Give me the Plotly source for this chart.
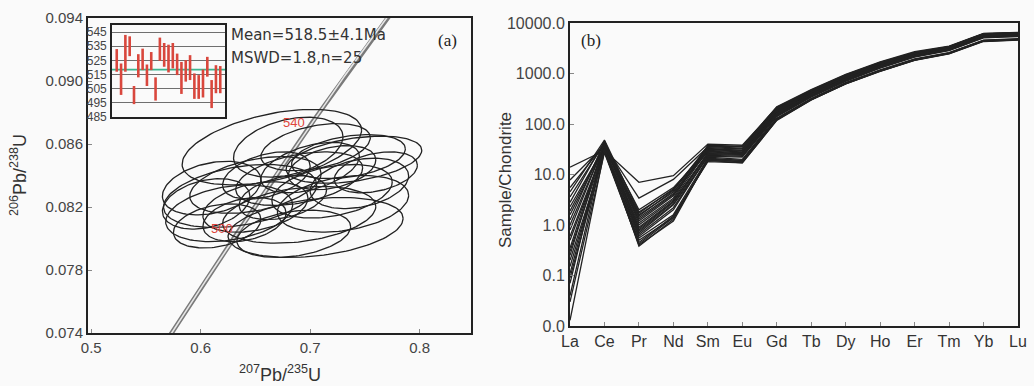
import numpy as np
import plotly.graph_objects as go

# ---------------- data: U-Pb concordia (panel a) ----------------
ell_x = [0.665, 0.680, 0.740, 0.735, 0.705, 0.636, 0.626, 0.650, 0.690, 0.720, 0.700, 0.610, 0.660,
         0.745, 0.690, 0.605, 0.720, 0.650, 0.675, 0.730, 0.640, 0.705, 0.615, 0.760, 0.685]
ell_sx = [0.082, 0.050, 0.062, 0.052, 0.080, 0.070, 0.058, 0.048, 0.058, 0.055, 0.045, 0.045, 0.040,
          0.045, 0.070, 0.040, 0.040, 0.060, 0.040, 0.060, 0.038, 0.050, 0.040, 0.038, 0.052]
ell_y = [0.0858, 0.0858, 0.0850, 0.0852, 0.0807, 0.0827, 0.0816, 0.0820, 0.0838, 0.0830, 0.0845, 0.0832, 0.0840,
         0.0835, 0.0815, 0.0822, 0.0845, 0.0834, 0.0826, 0.0822, 0.0812, 0.0858, 0.0808, 0.0842, 0.0803]
ell_sy = [0.0024, 0.0019, 0.0015, 0.0014, 0.0019, 0.0020, 0.0018, 0.0016, 0.0017, 0.0017, 0.0016, 0.0017, 0.0015,
          0.0016, 0.0018, 0.0016, 0.0014, 0.0018, 0.0014, 0.0018, 0.0014, 0.0015, 0.0014, 0.0013, 0.0015]
ell_rho = [0.45, 0.35, 0.40, 0.35, 0.30, 0.35, 0.30, 0.35, 0.40, 0.35, 0.45, 0.30, 0.40,
           0.30, 0.30, 0.30, 0.35, 0.40, 0.35, 0.30, 0.30, 0.40, 0.30, 0.35, 0.30]
age_labels = [500, 540]
LAMBDA238 = 1.55125e-10
LAMBDA235 = 9.8485e-10

# weighted mean inset
spot_age = [525.0, 511.7, 530.0, 535.0, 500.5, 521.2, 525.7, 514.5, 524.5, 504.8, 532.9, 528.9, 526.3,
            528.3, 522.2, 512.6, 517.6, 519.9, 506.8, 506.2, 508.7, 520.5, 501.2, 511.7, 511.4]
spot_err = [8.0, 11.1, 13.0, 7.0, 6.4, 8.2, 7.6, 7.6, 6.4, 8.2, 8.2, 8.4, 9.8,
            9.0, 7.6, 11.3, 7.6, 8.8, 9.0, 8.4, 9.9, 7.0, 9.9, 9.9, 9.6]
mean_age = 518.5

# ---------------- data: REE chondrite normalised (panel b) ----------------
elements = ["La", "Ce", "Pr", "Nd", "Sm", "Eu", "Gd", "Tb", "Dy", "Ho", "Er", "Tm", "Yb", "Lu"]
la = [14.0, 7.8, 3.6, 2.3, 1.25, 0.8, 0.5, 0.2, 0.11, 0.07, 0.013, 4.5, 1.6, 0.35, 0.15, 1.0, 0.6, 2.8, 0.09, 0.25, 0.04, 5.5, 0.3, 1.9, 0.03]
ce = [30, 38, 42, 35, 45, 40, 33, 28, 36, 44, 30, 48, 37, 41, 31, 39, 34, 46, 29, 43, 35, 40, 32, 38, 27]
pr = [7.0, 3.4, 2.0, 1.6, 1.2, 0.9, 0.7, 0.5, 0.6, 1.1, 0.4, 1.8, 1.3, 0.8, 0.55, 1.0, 0.65, 1.5, 0.45, 0.75, 0.38, 1.4, 0.85, 1.7, 0.42]
nd = [9.5, 8.0, 5.5, 4.5, 3.8, 3.0, 2.5, 1.4, 2.0, 3.4, 1.2, 5.0, 4.0, 2.8, 1.6, 3.2, 2.2, 4.8, 1.5, 2.6, 1.3, 4.2, 2.9, 5.2, 1.4]
sm = [40, 35, 30, 28, 33, 26, 22, 19, 24, 38, 20, 36, 29, 27, 21, 31, 23, 34, 18, 25, 20, 37, 26, 32, 19]
eu = [38, 36, 28, 26, 30, 25, 20, 17, 23, 36, 19, 33, 27, 26, 19, 29, 22, 32, 17, 24, 18, 35, 25, 30, 18]
gd = [210, 200, 170, 160, 190, 150, 140, 120, 155, 220, 125, 205, 175, 165, 130, 180, 145, 195, 118, 150, 128, 215, 160, 185, 122]
tb = [470, 440, 400, 380, 430, 360, 340, 300, 370, 480, 310, 450, 410, 390, 320, 420, 350, 440, 300, 365, 315, 460, 385, 425, 305]
dy = [940, 900, 820, 780, 860, 740, 700, 630, 760, 960, 650, 910, 830, 800, 660, 850, 720, 880, 620, 750, 640, 930, 790, 870, 625]
ho = [1650, 1600, 1480, 1400, 1550, 1350, 1280, 1120, 1380, 1700, 1150, 1620, 1500, 1450, 1180, 1520, 1300, 1580, 1100, 1360, 1140, 1660, 1420, 1560, 1110]
er = [2600, 2550, 2400, 2300, 2480, 2200, 2100, 1850, 2250, 2700, 1900, 2580, 2420, 2350, 1950, 2450, 2150, 2500, 1820, 2230, 1880, 2620, 2320, 2470, 1840]
tm = [3400, 3350, 3150, 3050, 3250, 2950, 2850, 2500, 3000, 3500, 2550, 3380, 3180, 3100, 2600, 3200, 2900, 3300, 2450, 2980, 2520, 3420, 3080, 3230, 2480]
yb = [6100, 6000, 5700, 5500, 5850, 5300, 5100, 4400, 5400, 6250, 4500, 6050, 5750, 5600, 4600, 5800, 5200, 5950, 4300, 5350, 4450, 6150, 5550, 5800, 4350]
lu = [6400, 6300, 6000, 5800, 6150, 5600, 5400, 4700, 5700, 6500, 4800, 6350, 6050, 5900, 4900, 6100, 5500, 6250, 4600, 5650, 4750, 6450, 5850, 6100, 4650]
ree_tickvals = [0.01, 0.1, 1, 10, 100, 1000, 10000]
ree_ticktext = ["0.0", "0.1", "1.0", "10.0", "100.0", "1000.0", "10000.0"]

# ---------------- figure ----------------
W, H = 1034, 386
BG = "#fafafa"
INK = "#222222"
FONT = "Liberation Sans, Arial, sans-serif"
WIDE = "DejaVu Sans, Verdana, sans-serif"
fig = go.Figure()

# concordia curve
ages = np.linspace(400e6, 650e6, 400)
cx = np.exp(LAMBDA235 * ages) - 1
cy = np.exp(LAMBDA238 * ages) - 1
fig.add_trace(go.Scatter(x=cx, y=cy, mode="lines", line=dict(color="#7a7a7a", width=4.6),
                         xaxis="x", yaxis="y", hoverinfo="skip", showlegend=False))
fig.add_trace(go.Scatter(x=cx, y=cy, mode="lines", line=dict(color="#e6e6e6", width=1.6),
                         xaxis="x", yaxis="y", hoverinfo="skip", showlegend=False))

# error ellipses
t = np.linspace(0, 2 * np.pi, 120)
for mx, sx, my, sy, r in zip(ell_x, ell_sx, ell_y, ell_sy, ell_rho):
    ex = mx + sx * np.cos(t)
    ey = my + sy * (r * np.cos(t) + np.sqrt(1 - r * r) * np.sin(t))
    fig.add_trace(go.Scatter(x=ex, y=ey, mode="lines", line=dict(color=INK, width=1.3),
                             xaxis="x", yaxis="y", hoverinfo="skip", showlegend=False))

# age labels on concordia
for a in age_labels:
    px = np.exp(LAMBDA235 * a * 1e6) - 1
    py = np.exp(LAMBDA238 * a * 1e6) - 1
    fig.add_annotation(x=px, y=py, xref="x", yref="y", text=str(a), showarrow=False,
                       xanchor="right", yanchor="middle", xshift=-5,
                       font=dict(family=FONT, size=13, color="#e0463c"))

# inset: weighted mean
idx = list(range(1, len(spot_age) + 1))
fig.add_trace(go.Scatter(x=[-1, 27], y=[mean_age, mean_age], mode="lines",
                         line=dict(color="#3bb58f", width=1.6), xaxis="x3", yaxis="y3",
                         hoverinfo="skip", showlegend=False))
for i, a, e in zip(idx, spot_age, spot_err):
    fig.add_trace(go.Scatter(x=[i, i], y=[a - e, a + e], mode="lines",
                             line=dict(color="#d9473d", width=2.6), xaxis="x3", yaxis="y3",
                             hoverinfo="skip", showlegend=False))

# REE patterns
cols = [la, ce, pr, nd, sm, eu, gd, tb, dy, ho, er, tm, yb, lu]
xs = list(range(len(elements)))
for k in range(len(la)):
    vals = [c[k] for c in cols]
    fig.add_trace(go.Scatter(x=xs, y=vals, mode="lines", line=dict(color=INK, width=1.3),
                             xaxis="x2", yaxis="y2", hoverinfo="skip", showlegend=False))

def px2x(p):
    return p / W

def px2y(p):
    return 1 - p / H

axis_common = dict(showgrid=False, zeroline=False, showline=True, linecolor=INK, linewidth=2,
                   mirror=True, ticks="inside", ticklen=4, tickcolor="#888", automargin=False,
                   tickfont=dict(family=FONT, size=15, color="#444"))

fig.update_layout(
    width=W, height=H, margin=dict(l=0, r=0, t=0, b=0, autoexpand=False),
    paper_bgcolor=BG, plot_bgcolor=BG, showlegend=False,
    xaxis=dict(domain=[px2x(88), px2x(471)], range=[0.497, 0.847], anchor="y",
               tickvals=[0.5, 0.6, 0.7, 0.8], ticktext=["0.5", "0.6", "0.7", "0.8"], **axis_common),
    yaxis=dict(domain=[px2y(333), px2y(18)], range=[0.074, 0.094], anchor="x",
               tickvals=[0.074, 0.078, 0.082, 0.086, 0.090, 0.094],
               ticktext=["0.074", "0.078", "0.082", "0.086", "0.090", "0.094"], **axis_common),
    xaxis2=dict(domain=[px2x(570), px2x(1018)], range=[0, 13], anchor="y2",
                tickvals=xs, ticktext=elements,
                **{**axis_common, "tickfont": dict(family=FONT, size=16, color="#333")}),
    yaxis2=dict(domain=[px2y(326), px2y(23)], type="log", range=[-2, 4], anchor="x2",
                tickvals=ree_tickvals, ticktext=ree_ticktext,
                **{**axis_common, "tickfont": dict(family=FONT, size=16, color="#444")}),
    xaxis3=dict(domain=[px2x(112), px2x(225)], range=[-0.1, 26.1], anchor="y3",
                showticklabels=False, showgrid=False, zeroline=False, showline=True, automargin=False,
                linecolor=INK, linewidth=1.6, mirror=True, ticks=""),
    yaxis3=dict(domain=[px2y(117), px2y(25)], range=[485, 550], anchor="x3",
                tickvals=[485, 495, 505, 515, 525, 535, 545], showgrid=True, gridcolor="#6f6f6f",
                gridwidth=1, zeroline=False, showline=True, linecolor=INK, linewidth=1.6, automargin=False,
                mirror=True, ticks="", ticklabelstandoff=1,
                tickfont=dict(family=FONT, size=12, color="#444")),
)

ann = [
    dict(x=px2x(229), y=px2y(35), text="Mean=518.5±4.1Ma", xanchor="left", yanchor="middle",
         font=dict(family=WIDE, size=15, color="#333")),
    dict(x=px2x(229), y=px2y(58), text="MSWD=1.8,n=25", xanchor="left", yanchor="middle",
         font=dict(family=WIDE, size=15, color="#333")),
    dict(x=px2x(447), y=px2y(40), text="(a)", xanchor="center", yanchor="middle",
         font=dict(family="Liberation Serif, Times New Roman, serif", size=17, color="#222")),
    dict(x=px2x(591), y=px2y(40), text="(b)", xanchor="center", yanchor="middle",
         font=dict(family="Liberation Serif, Times New Roman, serif", size=17, color="#222")),
    dict(x=px2x(18), y=px2y(175), text="<sup>206</sup>Pb/<sup>238</sup>U", textangle=-90,
         xanchor="center", yanchor="middle", font=dict(family=FONT, size=18, color="#333")),
    dict(x=px2x(280), y=px2y(373), text="<sup>207</sup>Pb/<sup>235</sup>U",
         xanchor="center", yanchor="middle", font=dict(family=FONT, size=18, color="#333")),
    dict(x=px2x(505), y=px2y(180), text="Sample/Chondrite", textangle=-90,
         xanchor="center", yanchor="middle", font=dict(family=FONT, size=17, color="#333")),
]
for a in ann:
    fig.add_annotation(xref="paper", yref="paper", showarrow=False, **a)

fig.write_html("out.html", config={"displayModeBar": False},
               post_script="document.body.style.margin='0';document.body.style.background='#fafafa';")
